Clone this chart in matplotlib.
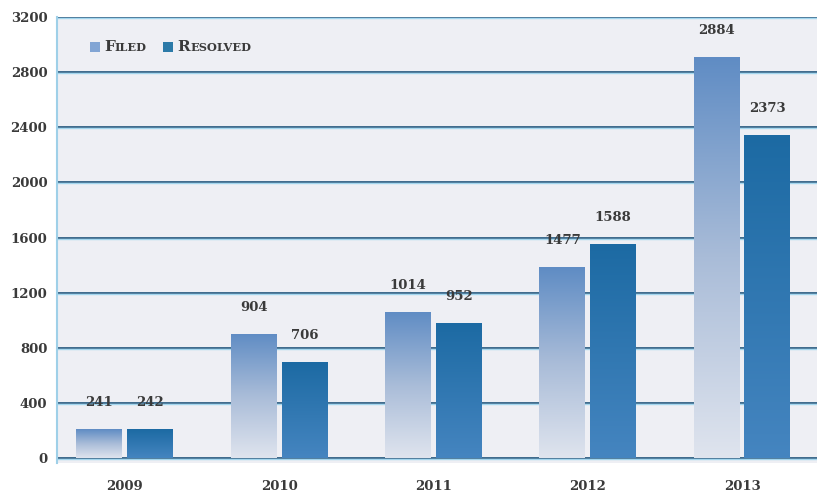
import numpy as np
import matplotlib
matplotlib.use('Agg')
import matplotlib.pyplot as plt
from matplotlib.colors import LinearSegmentedColormap
from matplotlib.offsetbox import AnchoredOffsetbox, HPacker, TextArea, DrawingArea
from matplotlib.patches import Rectangle

# data
years = ['2009', '2010', '2011', '2012', '2013']
filed_labels = [241, 904, 1014, 1477, 2884]
resolved_labels = [242, 706, 952, 1588, 2373]
# the bars in the original are not drawn exactly at the labelled values
filed_drawn = [210, 900, 1060, 1385, 2910]
resolved_drawn = [210, 697, 980, 1553, 2345]

plt.rcParams['font.family'] = 'DejaVu Serif'
plt.rcParams['font.weight'] = 'bold'
txt_color = '#3a3a3a'

fig = plt.figure(figsize=(8.17, 4.97), dpi=100)
ax = fig.add_axes([0.0698, 0.0684, 0.9302, 0.8974])
ax.set_facecolor('#eeeff4')

# gradients (bottom -> top)
filed_cmap = LinearSegmentedColormap.from_list('filed', ['#dfe4ee', '#a9bcd8', '#5f8cc4'])
resolved_cmap = LinearSegmentedColormap.from_list('resolved', ['#4585c0', '#1c6aa3'])
grad = np.linspace(0, 1, 256).reshape(-1, 1)

x = np.arange(len(years))
w = 0.298
off = 0.165

# grid lines: dark line with a light blue line under it
for v in range(0, 3201, 400):
    ax.axhline(v, color='#3d6a8c', lw=1.4, zorder=1)
    ax.axhline(v - 8, color='#a3d6ee', lw=1.0, zorder=1)


def gradient_bars(xs, heights, cmap):
    bars = ax.bar(xs, heights, width=w, color='none', zorder=2)
    for b in bars:
        x0, h = b.get_x(), b.get_height()
        im = ax.imshow(grad, extent=[x0, x0 + b.get_width(), 0, h], origin='lower',
                       aspect='auto', cmap=cmap, zorder=2)
        im.set_clip_path(b)
    return bars


gradient_bars(x - off, filed_drawn, filed_cmap)
gradient_bars(x + off, resolved_drawn, resolved_cmap)

for xi, h, lbl in zip(x - off, filed_drawn, filed_labels):
    ax.annotate(str(lbl), (xi, h), xytext=(0, 19), textcoords='offset points',
                ha='center', va='center', fontsize=9.5, color=txt_color)
for xi, h, lbl in zip(x + off, resolved_drawn, resolved_labels):
    ax.annotate(str(lbl), (xi, h), xytext=(0, 19), textcoords='offset points',
                ha='center', va='center', fontsize=9.5, color=txt_color)

ax.set_xlim(-0.44, 4.486)
ax.set_ylim(-36, 3200)
ax.set_xticks(x)
ax.set_xticklabels(years)
ax.set_yticks(range(0, 3201, 400))
ax.tick_params(axis='both', length=0, labelsize=9.5, labelcolor=txt_color)
ax.tick_params(axis='y', pad=7)
ax.tick_params(axis='x', pad=12)

for s in ['top', 'right', 'bottom']:
    ax.spines[s].set_visible(False)
ax.spines['left'].set_color('#9fd0e8')
ax.spines['left'].set_linewidth(1.5)


# legend with small caps
def swatch(color):
    da = DrawingArea(7, 7, 0, 0)
    da.add_artist(Rectangle((0, 0), 7, 7, fc=color, ec='none'))
    return da


def small_caps(word):
    first = TextArea(word[0], textprops=dict(fontsize=11, color=txt_color))
    rest = TextArea(word[1:].upper(), textprops=dict(fontsize=8.2, color=txt_color))
    return HPacker(children=[first, rest], sep=0, pad=0, align='baseline')


box = HPacker(children=[swatch('#82a5d4'), small_caps('Filed')], sep=3, pad=0, align='center')
box2 = HPacker(children=[swatch('#2c7aa8'), small_caps('Resolved')], sep=3, pad=0, align='center')
legend = HPacker(children=[box, box2], sep=12, pad=0, align='center')
anchored = AnchoredOffsetbox(loc='upper left', child=legend, pad=0, borderpad=0,
                             frameon=False, bbox_to_anchor=(33 / 760, 1 - 23 / 446),
                             bbox_transform=ax.transAxes)
ax.add_artist(anchored)

plt.savefig('out.png', dpi=100, facecolor='white')
